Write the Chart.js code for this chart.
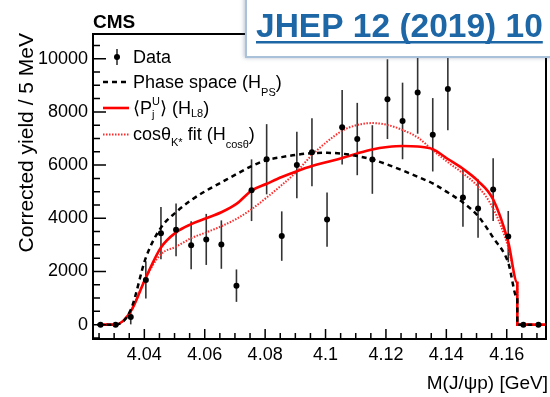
<!DOCTYPE html>
<html>
<head>
<meta charset="utf-8">
<title>M(J/ψp) corrected yield</title>
<script src="https://cdn.jsdelivr.net/npm/chart.js@4.4.1/dist/chart.umd.min.js"></script>
<style>
  html, body { margin: 0; padding: 0; background: #fff; }
</style>
</head>
<body>
<canvas id="massChart" width="550" height="397"></canvas>
<script>
const FONT = "'Liberation Sans', Arial, Helvetica, 'DejaVu Sans', sans-serif";

// 5 MeV bin centres of M(J/psi p) in GeV
const massBins = [
  4.0255, 4.0305, 4.0355, 4.0405, 4.0455, 4.0505, 4.0555, 4.0605, 4.0655, 4.0705,
  4.0755, 4.0805, 4.0855, 4.0905, 4.0955, 4.1005, 4.1055, 4.1105, 4.1155, 4.1205,
  4.1255, 4.1305, 4.1355, 4.1405, 4.1455, 4.1505, 4.1555, 4.1605, 4.1655, 4.1705
];
const yieldData = [
  0, 0, 290, 1680, 3440, 3565, 2985, 3205, 3010, 1466,
  5055, 6220, 3330, 6000, 6480, 3950, 7420, 6980, 6210, 8480,
  7660, 8730, 7140, 8860, 4780, 4370, 5080, 3310, 0, 0
];
const yieldErr = [
  0, 0, 280, 700, 980, 990, 900, 960, 910, 610,
  1160, 1320, 930, 1250, 1280, 1020, 1400, 1360, 1290, 1500,
  1440, 1550, 1380, 1550, 1100, 1100, 1180, 965, 0, 0
];

// model curves, sampled at the bin centres plus the kinematic endpoint
const curveMass = [
  4.0245, 4.0305, 4.0355, 4.0405, 4.0455, 4.0505, 4.0555, 4.0605, 4.0655, 4.0705,
  4.0755, 4.0805, 4.0855, 4.0905, 4.0955, 4.1005, 4.1055, 4.1105, 4.1155, 4.1205,
  4.1255, 4.1305, 4.1355, 4.1405, 4.1455, 4.1505, 4.1555, 4.1605, 4.1635, 4.1635, 4.173
];
const phaseSpace = [
  0, 0, 560, 2520, 3650, 4230, 4680, 5040, 5350, 5660,
  5960, 6190, 6300, 6390, 6450, 6460, 6430, 6340, 6210, 6020,
  5800, 5560, 5310, 4970, 4590, 4085, 3270, 2330, 1000, 0, 0
];
const helicityL8 = [
  0, 0, 500, 1770, 2900, 3470, 3780, 4000, 4226, 4540,
  5040, 5297, 5550, 5770, 5966, 6117, 6268, 6440, 6590, 6680,
  6720, 6700, 6600, 6230, 5860, 5400, 4710, 3100, 1578, 0, 0
];
const cosThetaFit = [
  0, 0, 500, 1770, 2650, 2930, 3250, 3470, 3700, 3980,
  4340, 4780, 5250, 5760, 6380, 6880, 7290, 7510, 7580, 7510,
  7320, 7040, 6560, 6110, 5690, 5190, 4370, 2920, 1570, 0, 0
];

const xTicks = [4.04, 4.06, 4.08, 4.1, 4.12, 4.14, 4.16];
const yTicks = [0, 2000, 4000, 6000, 8000, 10000];

const toPoints = (xs, ys) => xs.map((x, i) => ({ x, y: ys[i] }));

// draws a label with sub/superscripts; parts flagged "hold" share x with the next part
function richText(ctx, parts, x, y) {
  let cx = x;
  let held = 0;
  parts.forEach((p) => {
    const size = p.small ? 11 : 18;
    ctx.font = `${size}px ${FONT}`;
    ctx.fillText(p.t, cx, y + (p.dy || 0));
    const w = ctx.measureText(p.t).width;
    if (p.hold) {
      held = w;
    } else {
      cx += Math.max(w, held);
      held = 0;
    }
  });
}

const decorations = {
  id: 'decorations',
  beforeDatasetsDraw(chart) {
    const { ctx, scales: { x, y } } = chart;
    ctx.save();
    ctx.strokeStyle = '#333';
    ctx.lineWidth = 1.6;
    massBins.forEach((m, i) => {
      const e = yieldErr[i];
      if (!e) return;
      const px = x.getPixelForValue(m);
      ctx.beginPath();
      ctx.moveTo(px, y.getPixelForValue(yieldData[i] - e));
      ctx.lineTo(px, y.getPixelForValue(yieldData[i] + e));
      ctx.stroke();
    });
    ctx.restore();
  },
  afterDatasetsDraw(chart) {
    const { ctx, chartArea: a, scales: { x, y } } = chart;
    ctx.save();
    ctx.strokeStyle = '#000';
    ctx.lineWidth = 2;
    ctx.strokeRect(a.left, a.top, a.right - a.left, a.bottom - a.top);

    // inward ticks, bottom and left only
    ctx.lineWidth = 1.5;
    ctx.beginPath();
    for (let k = 0; k <= 29; k++) {
      const m = 4.025 + k * 0.005;
      const major = xTicks.some((t) => Math.abs(t - m) < 1e-6);
      const px = x.getPixelForValue(m);
      ctx.moveTo(px, a.bottom);
      ctx.lineTo(px, a.bottom - (major ? 10 : 6));
    }
    for (let v = -500; v <= 10500; v += 500) {
      const py = y.getPixelForValue(v);
      ctx.moveTo(a.left, py);
      ctx.lineTo(a.left + (v % 2000 === 0 ? 13 : 7), py);
    }
    ctx.stroke();
    ctx.restore();
  },
  afterDraw(chart) {
    const { ctx } = chart;
    ctx.save();
    ctx.fillStyle = '#000';
    ctx.textBaseline = 'alphabetic';

    // axis titles
    ctx.font = `19px ${FONT}`;
    ctx.textAlign = 'right';
    ctx.fillText('M(J/ψp) [GeV]', 548, 389);
    ctx.save();
    ctx.translate(32.5, 33);
    ctx.rotate(-Math.PI / 2);
    ctx.font = `21px ${FONT}`;
    ctx.fillText('Corrected yield / 5 MeV', 0, 0);
    ctx.restore();

    ctx.textAlign = 'left';
    ctx.font = `bold 19px ${FONT}`;
    ctx.fillText('CMS', 93, 28);

    // legend
    ctx.strokeStyle = '#333';
    ctx.lineWidth = 1.6;
    ctx.beginPath();
    ctx.moveTo(117, 49);
    ctx.lineTo(117, 65);
    ctx.stroke();
    ctx.beginPath();
    ctx.arc(117, 57, 3, 0, Math.PI * 2);
    ctx.fill();

    ctx.strokeStyle = '#000';
    ctx.lineWidth = 2.5;
    ctx.setLineDash([5, 4]);
    ctx.beginPath();
    ctx.moveTo(103, 82);
    ctx.lineTo(129, 82);
    ctx.stroke();

    ctx.strokeStyle = '#ff0000';
    ctx.lineWidth = 2.6;
    ctx.setLineDash([]);
    ctx.beginPath();
    ctx.moveTo(103, 108);
    ctx.lineTo(129, 108);
    ctx.stroke();

    ctx.strokeStyle = '#ff2a2a';
    ctx.lineWidth = 2;
    ctx.setLineDash([1.5, 1.5]);
    ctx.beginPath();
    ctx.moveTo(103, 134.5);
    ctx.lineTo(129, 134.5);
    ctx.stroke();
    ctx.setLineDash([]);

    richText(ctx, [{ t: 'Data' }], 133, 63);
    richText(ctx, [{ t: 'Phase space (H' }, { t: 'PS', small: true, dy: 8 }, { t: ')' }], 133, 88);
    richText(ctx, [
      { t: '⟨P' }, { t: 'U', small: true, dy: -9, hold: true }, { t: 'j', small: true, dy: 4 },
      { t: '⟩ (H' }, { t: 'L8', small: true, dy: 3 }, { t: ')' }
    ], 133, 114);
    richText(ctx, [
      { t: 'cosθ' }, { t: 'K*', small: true, dy: 6 },
      { t: ' fit (H' }, { t: 'cosθ', small: true, dy: 8 }, { t: ')' }
    ], 133, 140);

    // journal reference banner
    ctx.save();
    ctx.shadowColor = 'rgba(60, 90, 120, 0.35)';
    ctx.shadowBlur = 4;
    ctx.shadowOffsetX = -1;
    ctx.shadowOffsetY = 1;
    ctx.fillStyle = '#fff';
    ctx.fillRect(245, -6, 320, 63);
    ctx.restore();
    ctx.strokeStyle = '#a9c2d9';
    ctx.lineWidth = 2;
    ctx.strokeRect(246, -6, 320, 63);

    const ref = 'JHEP 12 (2019) 10';
    ctx.fillStyle = '#1e67a6';
    ctx.font = `bold 33.5px ${FONT}`;
    ctx.fillText(ref, 256, 37);
    ctx.fillRect(256, 41, ctx.measureText(ref).width, 2.5);
    ctx.restore();
  }
};

new Chart(document.getElementById('massChart'), {
  type: 'line',
  data: {
    datasets: [
      {
        label: 'Data',
        data: toPoints(massBins, yieldData),
        showLine: false,
        pointRadius: 3,
        pointBorderWidth: 0,
        pointBackgroundColor: '#000',
      },
      {
        label: 'Phase space',
        data: toPoints(curveMass, phaseSpace),
        borderColor: '#000',
        borderWidth: 2.5,
        borderDash: [5, 4],
        pointRadius: 0,
        cubicInterpolationMode: 'monotone',
      },
      {
        label: 'H_L8',
        data: toPoints(curveMass, helicityL8),
        borderColor: '#ff0000',
        borderWidth: 2.6,
        pointRadius: 0,
        cubicInterpolationMode: 'monotone',
      },
      {
        label: 'H_cos',
        data: toPoints(curveMass, cosThetaFit),
        borderColor: '#ff2a2a',
        borderWidth: 2,
        borderDash: [1.5, 1.5],
        pointRadius: 0,
        cubicInterpolationMode: 'monotone',
      },
    ],
  },
  options: {
    responsive: false,
    animation: false,
    devicePixelRatio: 1,
    layout: { padding: { top: 34, right: 2, bottom: 0, left: 0 } },
    plugins: { legend: { display: false }, tooltip: { enabled: false } },
    scales: {
      x: {
        type: 'linear',
        min: 4.023,
        max: 4.173,
        grid: { display: false, drawTicks: false },
        border: { display: false },
        afterBuildTicks: (scale) => { scale.ticks = xTicks.map((value) => ({ value })); },
        afterFit: (scale) => { scale.height = 58; },
        ticks: {
          autoSkip: false,
          maxRotation: 0,
          padding: 5,
          color: '#000',
          font: { family: FONT, size: 18 },
          callback: (v) => String(Number(v.toFixed(3))),
        },
      },
      y: {
        min: -540,
        max: 10930,
        grid: { display: false, drawTicks: false },
        border: { display: false },
        afterBuildTicks: (scale) => { scale.ticks = yTicks.map((value) => ({ value })); },
        afterFit: (scale) => { scale.width = 93; },
        ticks: {
          padding: 5,
          color: '#000',
          font: { family: FONT, size: 18 },
          callback: (v) => String(v),
        },
      },
    },
  },
  plugins: [decorations],
});
</script>
</body>
</html>
